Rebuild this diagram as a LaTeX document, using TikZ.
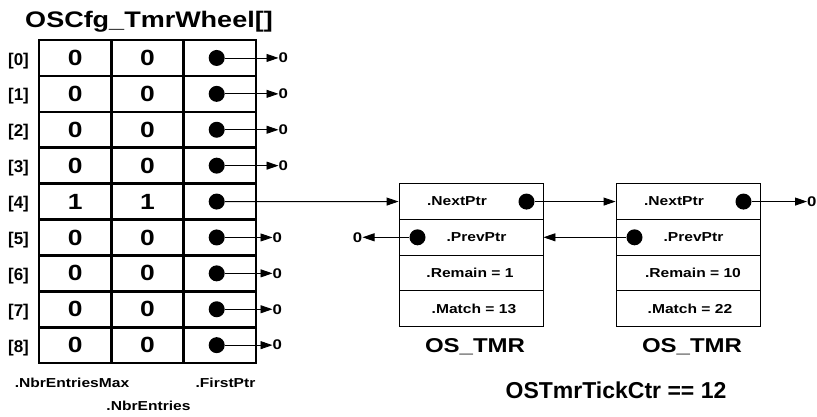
\documentclass[tikz,border=0pt]{standalone}
\usepackage{fontspec}
\setmainfont[FakeStretch=1.2]{Liberation Sans}
\newfontfamily\narrowfont{Liberation Sans}
\usepackage{tikz}
\usetikzlibrary{arrows.meta, positioning}

\begin{document}
\begin{tikzpicture}[
    x=1pt, y=-1pt,
    cell/.style={draw, line width=2.6pt, minimum width=72.3pt, minimum height=35.9pt,
        inner sep=0pt, font=\bfseries\fontsize{22}{22}\selectfont},
    field/.style={draw, line width=0.9pt, minimum width=144pt, minimum height=35.75pt,
        inner sep=0pt},
    fieldtxt/.style={inner sep=0pt, font=\bfseries\fontsize{13}{13}\selectfont},
    ptrdot/.style={circle, fill, minimum size=16pt, inner sep=0pt},
    nullval/.style={inner sep=0pt, font=\bfseries\fontsize{14}{14}\selectfont},
    link/.style={-{Triangle[length=12pt, width=8pt]}, line width=0.9pt},
    rowlbl/.style={anchor=base, inner sep=0pt, font=\narrowfont\bfseries\fontsize{17}{17}\selectfont},
    caption/.style={anchor=base, inner sep=0pt, font=\bfseries\fontsize{13}{13}\selectfont},
    heading/.style={anchor=base, inner sep=0pt, font=\bfseries\fontsize{22.5}{22.5}\selectfont},
    structname/.style={anchor=base, inner sep=0pt, font=\bfseries\fontsize{20}{20}\selectfont}
]
\useasboundingbox (0,0) rectangle (817,416);

% timer wheel table
\node[heading] (wheel) at (149,27) {OSCfg\_TmrWheel[]};
\foreach \r/\m/\e in {0/0/0, 1/0/0, 2/0/0, 3/0/0, 4/1/1, 5/0/0, 6/0/0, 7/0/0, 8/0/0} {
    \node[rowlbl] (idx\r) at (18.5, {65+35.9*\r}) {[\r]};
    \node[cell] (max\r) at (75.2, {57.95+35.9*\r}) {\m};
    \node[cell] (ent\r) at (147.5, {57.95+35.9*\r}) {\e};
    \node[cell] (ptr\r) at (219.8, {57.95+35.9*\r}) {};
    \node[ptrdot] (dot\r) at (216.7, {57.95+35.9*\r}) {};
}
\foreach \r/\zx in {0/278.5, 1/278.5, 2/278.5, 3/278.5, 5/272.5, 6/272.5, 7/272.5, 8/272.5} {
    \node[nullval, anchor=west] (zero\r) at (\zx, {57.95+35.9*\r}) {0};
    \draw[link] (dot\r) -- (zero\r.west);
}
\node[caption] (maxlbl) at (72,387) {.NbrEntriesMax};
\node[caption] (firstlbl) at (225.5,387) {.FirstPtr};
\node[caption] (entlbl) at (148.5,410.7) {.NbrEntries};

% OS_TMR structures
\foreach \t/\x in {1/471, 2/688} {
    \node[field] (next\t) at (\x, 201.55) {};
    \node[field] (prev\t) at (\x, 237.3) {};
    \node[field] (remain\t) at (\x, 273.05) {};
    \node[field] (match\t) at (\x, 308.8) {};
    \node[fieldtxt] (nexttxt\t) at ([xshift=-14pt]next\t.center) {.NextPtr};
    \node[fieldtxt] (prevtxt\t) at ([xshift=5.5pt]prev\t.center) {.PrevPtr};
    \node[ptrdot] (nextdot\t) at ([xshift=55.5pt]next\t.center) {};
    \node[ptrdot] (prevdot\t) at ([xshift=-53.5pt]prev\t.center) {};
    \node[structname] (name\t) at ([xshift=4pt]\x, 352) {OS\_TMR};
}
\node[fieldtxt] (remtxt1) at ([xshift=-1pt]remain1.center) {.Remain = 1};
\node[fieldtxt] (remtxt2) at ([xshift=5pt]remain2.center) {.Remain = 10};
\node[fieldtxt] (matchtxt1) at ([xshift=3pt]match1.center) {.Match = 13};
\node[fieldtxt] (matchtxt2) at ([xshift=2pt]match2.center) {.Match = 22};

\node[nullval, anchor=west] (zeronext) at (807, 201.55) {0};
\node[nullval, anchor=east] (zeroprev) at (362.5, 237.3) {0};

\draw[link] (dot4) -- (next1.west);
\draw[link] (nextdot1) -- (next2.west);
\draw[link] (nextdot2) -- (zeronext.west);
\draw[link] (prevdot1) -- (zeroprev.east);
\draw[link] (prevdot2) -- (prev1.east);

\node[anchor=base, inner sep=0pt, font=\narrowfont\bfseries\fontsize{23}{23}\selectfont]
    (tickctr) at (616,398.3) {OSTmrTickCtr == 12};
\end{tikzpicture}
\end{document}
